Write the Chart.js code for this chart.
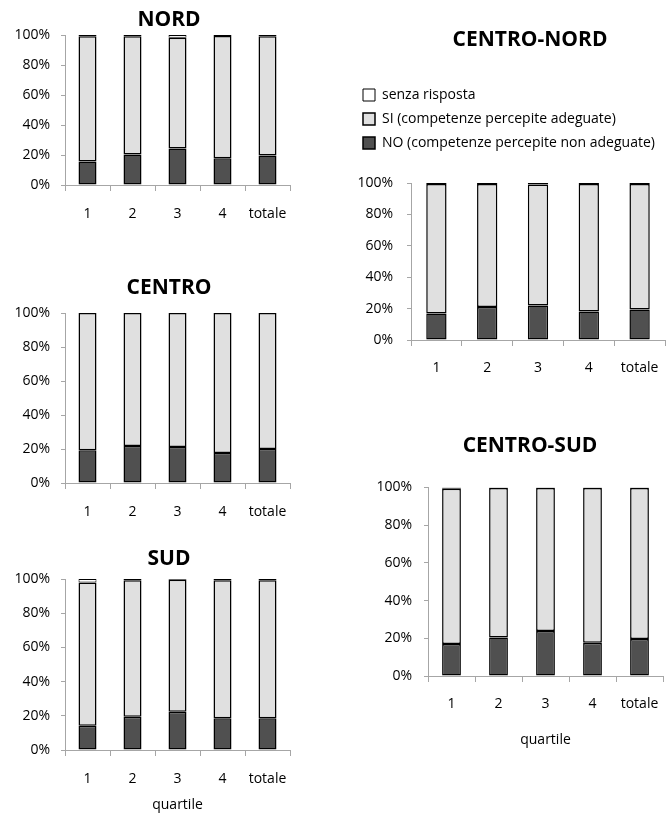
<!DOCTYPE html>
<html>
<head>
<meta charset="utf-8">
<script src="https://cdn.jsdelivr.net/npm/chart.js@4"></script>
<style>
  html, body { margin: 0; padding: 0; background: #fff; overflow: hidden; }
  #page { position: relative; width: 671px; height: 816px; overflow: hidden; }
  canvas { position: absolute; }
</style>
</head>
<body>
<div id="page">
  <canvas id="nord" width="338" height="225" style="left:0px; top:0px;"></canvas>
  <canvas id="centro" width="338" height="263" style="left:0px; top:260px;"></canvas>
  <canvas id="sud" width="338" height="286" style="left:0px; top:530px;"></canvas>
  <canvas id="centroNord" width="354" height="380" style="left:353px; top:0px;"></canvas>
  <canvas id="centroSud" width="340" height="341" style="left:360px; top:410px;"></canvas>
</div>
<script>
// categories (quartiles)
const quartili = ['1', '2', '3', '4', 'totale'];
const yTicks = [0, 20, 40, 60, 80, 100];

// series labels
const labelNo = 'NO (competenze percepite non adeguate)';
const labelSi = 'SI (competenze percepite adeguate)';
const labelSenza = 'senza risposta';

// NORD
const nordNo = [15.6, 20.4, 24.4, 17.8, 19.6];
const nordSi = [83.6, 78.8, 73.8, 81.6, 79.6];
const nordSenza = [0.8, 0.8, 1.8, 0.6, 0.8];

// CENTRO
const centroNo = [19.2, 21.8, 21.2, 17.6, 20.0];
const centroSi = [80.8, 78.2, 78.8, 82.4, 80.0];
const centroSenza = [0, 0, 0, 0, 0];

// SUD
const sudNo = [14.2, 19.5, 22.4, 18.5, 18.5];
const sudSi = [83.7, 79.7, 77.1, 80.8, 80.7];
const sudSenza = [2.1, 0.8, 0.5, 0.7, 0.8];

// CENTRO-NORD
const centroNordNo = [16.8, 21.0, 21.9, 18.1, 19.4];
const centroNordSi = [82.5, 78.3, 77.1, 81.3, 79.9];
const centroNordSenza = [0.7, 0.7, 1.0, 0.6, 0.7];

// CENTRO-SUD
const centroSudNo = [17.0, 20.4, 23.9, 17.7, 19.6];
const centroSudSi = [82.3, 79.3, 75.9, 82.0, 80.1];
const centroSudSenza = [0.7, 0.3, 0.2, 0.3, 0.3];

// colours
const colNo = '#505050';
const colSi = '#e0e0e0';
const colSenza = '#ffffff';
const axisCol = '#a6a6a6';

Chart.defaults.font.family = "'Open Sans', sans-serif";
Chart.defaults.font.size = 14;
Chart.defaults.color = '#000';

// gives the legend some space below it
const legendGap = {
    id: 'legendGap',
    beforeInit(chart) {
        if (!chart.legend) return;
        const fit = chart.legend.fit;
        chart.legend.fit = function () {
            fit.call(this);
            this.height += chart.options.plugins.legendGap.gap;
        };
    }
};

function makeChart(id, title, no, si, senza, opt) {
    const ctx = document.getElementById(id);
    const bar = (label, data, color, bw) => ({
        label: label,
        data: data,
        backgroundColor: color,
        borderColor: '#000',
        borderWidth: bw,
        borderSkipped: false,
        categoryPercentage: 1,
        barPercentage: 0.4
    });

    return new Chart(ctx, {
        type: 'bar',
        data: {
            labels: quartili,
            datasets: [
                bar(labelNo, no, colNo, 1.5),
                bar(labelSi, si, colSi, 1.5),
                bar(labelSenza, senza, colSenza, 1)
            ]
        },
        options: {
            responsive: false,
            animation: false,
            layout: { padding: 0 },
            plugins: {
                title: {
                    display: true,
                    text: title,
                    color: '#000',
                    font: { size: 21, weight: 'bold', lineHeight: 1 },
                    padding: { top: opt.titleTop, bottom: opt.titleBottom }
                },
                legend: {
                    display: !!opt.legend,
                    position: 'top',
                    align: 'start',
                    reverse: true,
                    labels: {
                        boxWidth: 12,
                        boxHeight: 12,
                        padding: 10,
                        color: '#000',
                        font: { size: 14 }
                    }
                },
                legendGap: { gap: opt.legendGap || 0 },
                tooltip: { enabled: false }
            },
            scales: {
                x: {
                    stacked: true,
                    grid: {
                        offset: true,
                        drawOnChartArea: false,
                        tickLength: 6,
                        color: axisCol
                    },
                    border: { color: axisCol },
                    ticks: { padding: opt.xPad },
                    title: {
                        display: !!opt.xTitle,
                        text: 'quartile',
                        color: '#000',
                        font: { size: 14 },
                        padding: { top: 4, bottom: 3 }
                    },
                    afterFit(scale) { scale.height = opt.xHeight; }
                },
                y: {
                    stacked: true,
                    min: 0,
                    max: 100,
                    afterBuildTicks(scale) {
                        scale.ticks = yTicks.map(v => ({ value: v }));
                    },
                    grid: {
                        drawOnChartArea: false,
                        tickLength: 4,
                        color: axisCol
                    },
                    border: { color: axisCol },
                    ticks: {
                        padding: opt.yPad,
                        callback: v => v + '%'
                    },
                    afterFit(scale) { scale.width = opt.yWidth; }
                },
                // empty axis on the right, only to leave room
                pad: {
                    type: 'linear',
                    position: 'right',
                    display: true,
                    grid: { display: false },
                    border: { display: false },
                    ticks: { display: false },
                    afterFit(scale) { scale.width = opt.rightPad; }
                }
            }
        },
        plugins: [legendGap]
    });
}

makeChart('nord', 'NORD', nordNo, nordSi, nordSenza, {
    titleTop: 9.5, titleBottom: 4.5, xPad: 15, xHeight: 40, yPad: 11, yWidth: 65, rightPad: 48
});
makeChart('centro', 'CENTRO', centroNo, centroSi, centroSenza, {
    titleTop: 18, titleBottom: 14, xPad: 15, xHeight: 40, yPad: 11, yWidth: 65, rightPad: 48
});
makeChart('sud', 'SUD', sudNo, sudSi, sudSenza, {
    titleTop: 19, titleBottom: 9, xPad: 15, xHeight: 66, yPad: 11, yWidth: 65, rightPad: 48, xTitle: true
});
makeChart('centroNord', 'CENTRO-NORD', centroNordNo, centroNordSi, centroNordSenza, {
    titleTop: 30, titleBottom: 27, legend: true, legendGap: 23,
    xPad: 14, xHeight: 40, yPad: 14, yWidth: 58, rightPad: 42
});
makeChart('centroSud', 'CENTRO-SUD', centroSudNo, centroSudSi, centroSudSenza, {
    titleTop: 25.5, titleBottom: 31, xPad: 14, xHeight: 75, yPad: 12, yWidth: 68, rightPad: 37, xTitle: true
});
</script>
</body>
</html>
